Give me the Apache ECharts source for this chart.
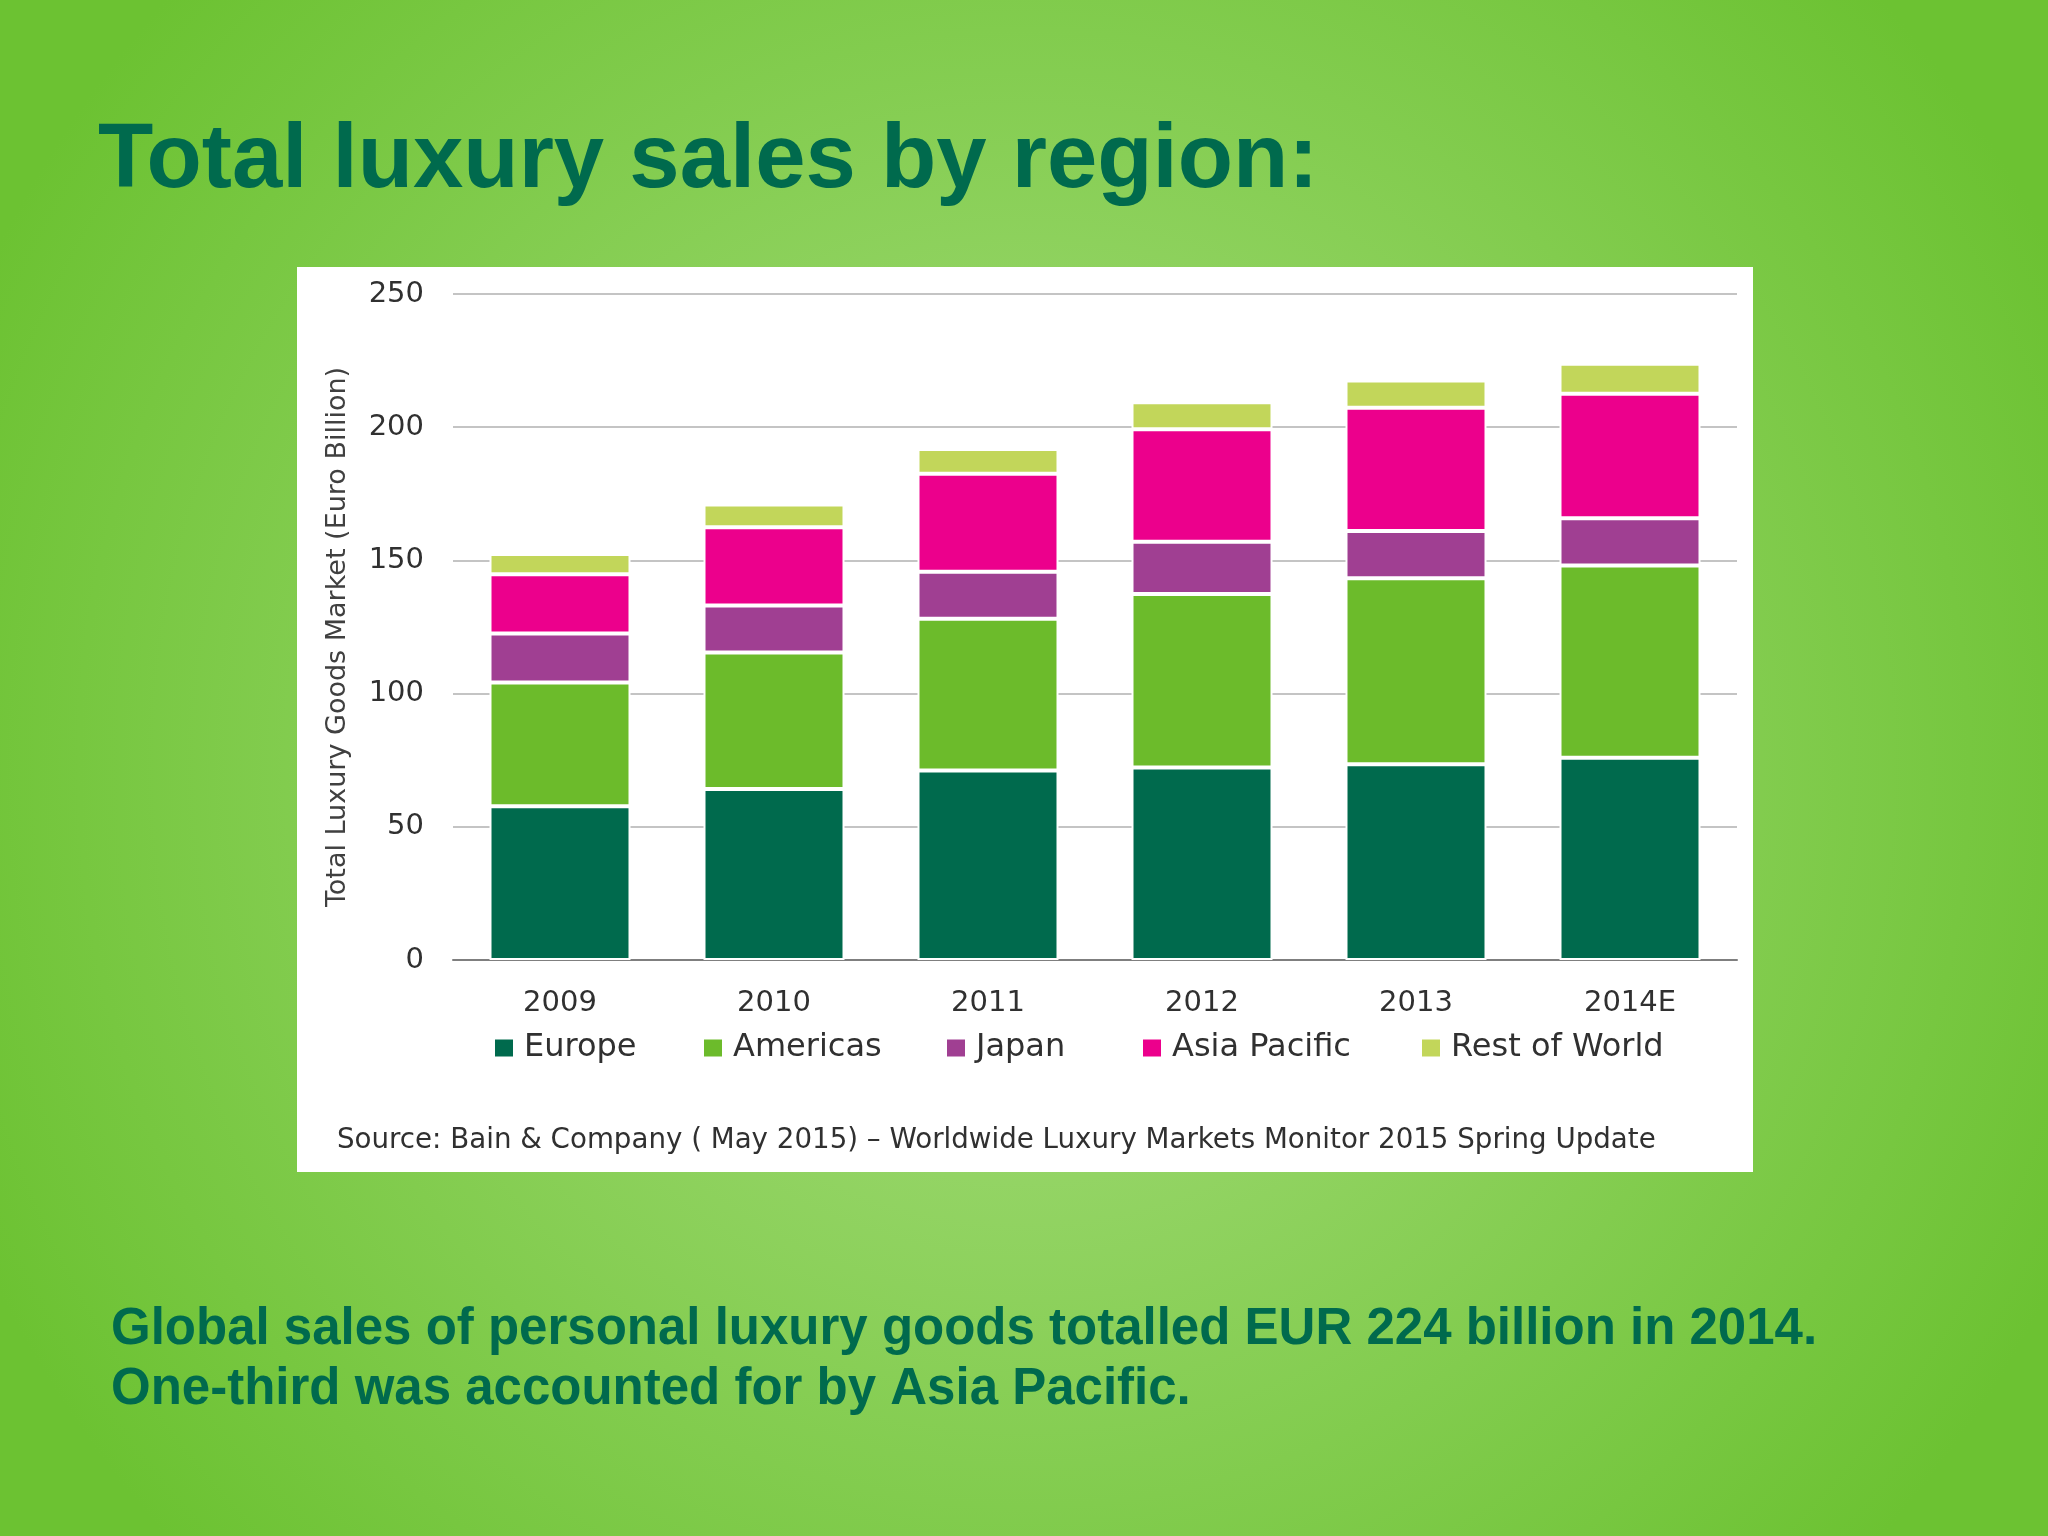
<!DOCTYPE html>
<html>
<head>
<meta charset="utf-8">
<script src="https://cdn.jsdelivr.net/npm/echarts@6/dist/echarts.min.js"></script>
<style>
html,body{margin:0;padding:0;width:2048px;height:1536px;overflow:hidden;}
#c{width:2048px;height:1536px;}
</style>
</head>
<body>
<div id="c"></div>
<script>
var categories = ['2009', '2010', '2011', '2012', '2013', '2014E'];
var europe = [57.7, 64.2, 71.1, 72.3, 73.5, 75.9];
var americas = [46.5, 51.2, 57.0, 65.1, 69.8, 72.2];
var japan = [18.4, 17.7, 17.6, 19.6, 17.7, 17.7];
var asiaPacific = [22.2, 29.3, 36.8, 42.2, 46.3, 46.8];
var restOfWorld = [7.6, 8.6, 9.3, 10.2, 10.2, 11.2];
var seriesNames = ['Europe', 'Americas', 'Japan', 'Asia Pacific', 'Rest of World'];
var yTicks = [0, 50, 100, 150, 200, 250];
var titleText = 'Total luxury sales by region:';
var yAxisTitle = 'Total Luxury Goods Market (Euro Billion)';
var sourceText = 'Source: Bain & Company ( May 2015) \u2013 Worldwide Luxury Markets Monitor 2015 Spring Update';
var noteLines = ['Global sales of personal luxury goods totalled EUR 224 billion in 2014.', 'One-third was accounted for by Asia Pacific.'];

var colors = ['#006a4d', '#6cbb2b', '#a03f92', '#ec008c', '#c2d65a'];
var chartFont = '"DejaVu Sans", sans-serif';
var dataSets = [europe, americas, japan, asiaPacific, restOfWorld];
var legendLefts = [493, 702, 945, 1141, 1420];

var chart = echarts.init(document.getElementById('c'));
var series = seriesNames.map(function (n, i) {
  return {
    name: n,
    type: 'bar',
    stack: 'total',
    barWidth: 141,
    data: dataSets[i],
    itemStyle: { color: colors[i], borderColor: '#ffffff', borderWidth: 2 },
    emphasis: { disabled: true }
  };
});

var legends = seriesNames.map(function (n, i) {
  return {
    data: [n],
    left: legendLefts[i],
    top: 1032,
    padding: 0,
    itemWidth: 20,
    itemHeight: 19,
    icon: 'rect',
    textStyle: { fontFamily: chartFont, fontSize: 32, color: '#303030', padding: [0, 0, 0, 5] }
  };
});

chart.setOption({
  animation: false,
  backgroundColor: {
    type: 'radial', x: 0.5, y: 0.5, r: 0.75,
    colorStops: [
      { offset: 0, color: '#a9de80' },
      { offset: 1, color: '#6cc232' }
    ]
  },
  color: colors,
  graphic: [
    { type: 'rect', z: -10, silent: true, shape: { x: 297, y: 267, width: 1456, height: 905 }, style: { fill: '#ffffff' } },
    { type: 'text', left: 98, top: 117, silent: true, style: { text: titleText, fill: '#006a4d', font: 'bold 90.5px "Liberation Sans", Arial, sans-serif' } },
    { type: 'text', x: 338, y: 637, rotation: Math.PI / 2, silent: true, style: { text: yAxisTitle, fill: '#404040', font: '27px ' + chartFont, align: 'center', verticalAlign: 'middle' } },
    { type: 'text', left: 337, top: 1127, silent: true, style: { text: sourceText, fill: '#303030', font: '27.7px ' + chartFont } },
    { type: 'text', left: 111, top: 1304, silent: true, style: { text: noteLines[0], fill: '#006a4d', font: 'bold 51px "Liberation Sans", Arial, sans-serif' } },
    { type: 'text', left: 111, top: 1364, silent: true, style: { text: noteLines[1], fill: '#006a4d', font: 'bold 51px "Liberation Sans", Arial, sans-serif' } }
  ],
  legend: legends,
  grid: { left: 453, right: 311, top: 294, bottom: 576, containLabel: false },
  xAxis: {
    type: 'category',
    data: categories,
    axisLine: { lineStyle: { color: '#7f7f7f', width: 2 } },
    axisTick: { show: false },
    axisLabel: { fontFamily: chartFont, fontSize: 29, color: '#303030', margin: 29 }
  },
  yAxis: {
    type: 'value',
    min: 0, max: 250, interval: 50,
    axisLine: { show: false },
    axisTick: { show: false },
    splitLine: { lineStyle: { color: '#c4c4c4', width: 2 } },
    axisLabel: {
      fontFamily: chartFont, fontSize: 29, color: '#303030', margin: 29,
      formatter: function (v) { return yTicks.indexOf(v) >= 0 ? String(v) : ''; }
    }
  },
  series: series
});
</script>
</body>
</html>
